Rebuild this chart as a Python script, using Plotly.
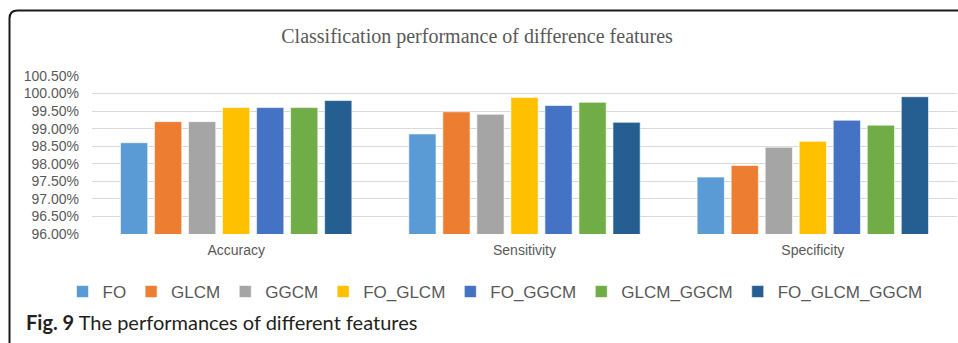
import plotly.graph_objects as go

categories = ["Accuracy", "Sensitivity", "Specificity"]
series_names = ["FO", "GLCM", "GGCM", "FO_GLCM", "FO_GGCM", "GLCM_GGCM", "FO_GLCM_GGCM"]
fo = [98.60, 98.85, 97.62]
glcm = [99.20, 99.48, 97.95]
ggcm = [99.20, 99.41, 98.47]
fo_glcm = [99.60, 99.89, 98.64]
fo_ggcm = [99.60, 99.66, 99.24]
glcm_ggcm = [99.60, 99.75, 99.10]
fo_glcm_ggcm = [99.80, 99.18, 99.91]
colors = ["#5B9BD5", "#ED7D31", "#A5A5A5", "#FFC000", "#4472C4", "#70AD47", "#255E91"]
tick_vals = [96.0, 96.5, 97.0, 97.5, 98.0, 98.5, 99.0, 99.5, 100.0, 100.5]
tick_text = ["%.2f%%" % v for v in tick_vals]

W, H = 958, 343
ML, MR, MT, MB = 92, 1, 76, 109
PW, PH = W - ML - MR, H - MT - MB

def px_x(x):
    return (x - ML) / PW

def px_y(y):
    return 1 - (y - MT) / PH

fig = go.Figure()
for name, vals, col in zip(series_names, [fo, glcm, ggcm, fo_glcm, fo_ggcm, glcm_ggcm, fo_glcm_ggcm], colors):
    fig.add_trace(go.Bar(name=name, x=categories, y=vals,
                         marker=dict(color=col, line=dict(color="rgba(255,255,255,0.6)", width=1))))

grey = "#595959"
fig.update_layout(
    width=W, height=H,
    margin=dict(l=ML, r=MR, t=MT, b=MB, autoexpand=False),
    paper_bgcolor="white", plot_bgcolor="white",
    barmode="group", bargap=0.174, bargroupgap=0.2,
    title=dict(text="Classification performance of difference features", x=0.498, xref="container", xanchor="center",
               y=1 - 36 / H, yref="container", yanchor="middle",
               font=dict(family="Liberation Serif", size=20, color=grey)),
    xaxis=dict(showgrid=False, showline=False, ticks="", ticklabelstandoff=6,
               tickfont=dict(family="Liberation Sans", size=14, color=grey)),
    yaxis=dict(range=[96, 100.5], tickvals=tick_vals, ticktext=tick_text, showgrid=True, gridcolor="#d9d9d9", gridwidth=1,
               zeroline=False, showline=False, ticks="", ticklabelstandoff=12,
               tickfont=dict(family="Liberation Sans", size=14, color=grey)),
    legend=dict(orientation="h", x=px_x(495), xref="paper", xanchor="center", y=px_y(292), yanchor="middle",
                font=dict(family="Liberation Sans", size=17, color=grey), itemwidth=30, traceorder="normal",
                tracegroupgap=0, bgcolor="rgba(0,0,0,0)"),
    showlegend=True,
)

# frame with rounded top-left corner
xl, yt, r = 9.5, 10.5, 8
path = (f"M {px_x(xl)},{px_y(H + 5)} L {px_x(xl)},{px_y(yt + r)} "
        f"Q {px_x(xl)},{px_y(yt)} {px_x(xl + r)},{px_y(yt)} L {px_x(W + 5)},{px_y(yt)}")
fig.add_shape(type="path", path=path, xref="paper", yref="paper", line=dict(color="#1a1a1a", width=2))

fig.add_annotation(text="<b>Fig. 9</b> The performances of different features", xref="paper", yref="paper",
                   x=px_x(24), y=px_y(322), xanchor="left", yanchor="middle", showarrow=False,
                   font=dict(family="Lato", size=20, color="#231f20"))

fig.write_html("out.html", config={"displayModeBar": False},
               post_script="document.body.style.margin='0';document.body.style.overflow='hidden';")
